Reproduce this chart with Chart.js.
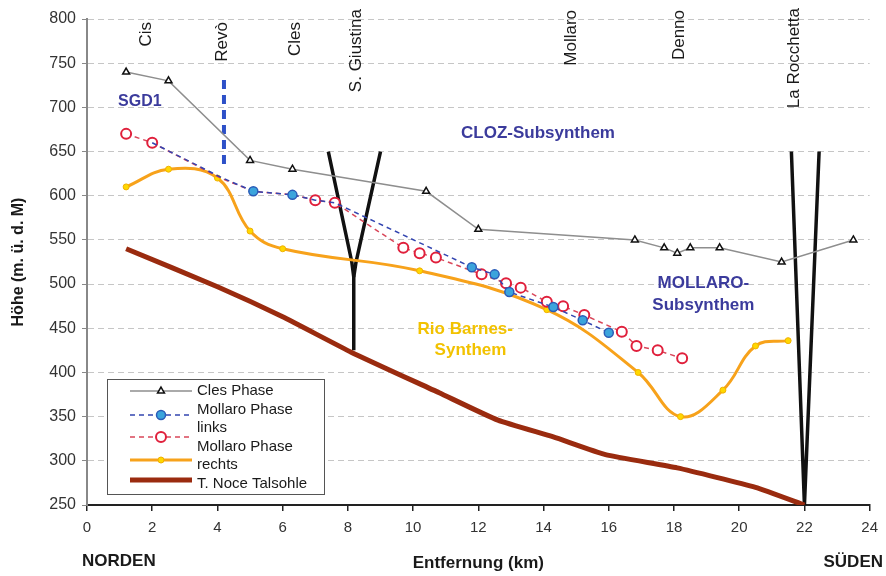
<!DOCTYPE html>
<html>
<head>
<meta charset="utf-8">
<script src="https://cdn.jsdelivr.net/npm/chart.js@4.4.1/dist/chart.umd.min.js"></script>
<style>
  body { margin: 0; background: #fff; }
  canvas { display: block; }
</style>
</head>
<body>
<canvas id="chart-js" width="886" height="576"></canvas>
<script>
// tick labels
const xTickValues = [0, 2, 4, 6, 8, 10, 12, 14, 16, 18, 20, 22, 24];
const yTickValues = [250, 300, 350, 400, 450, 500, 550, 600, 650, 700, 750, 800];

// Cles Phase
const clesKm = [1.2, 2.5, 5.0, 6.3, 10.4, 12.0, 16.8, 17.7, 18.1, 18.5, 19.4, 21.3, 23.5];
const clesH  = [740, 730, 640, 630, 605, 562, 550, 541, 535, 541, 541, 525, 550];

// Mollaro Phase links (blue)
const linksKm = [2.0, 4.1, 5.1, 6.3, 7.0, 7.6, 11.8, 12.5, 12.95, 14.3, 15.2, 16.0];
const linksH  = [660, 621, 605, 601, 595, 592, 519, 511, 491, 474, 459, 445];
const linksShown = [false, false, true, true, false, false, true, true, true, true, true, true];

// red open circles
const redKm = [1.2, 2.0, 4.1, 5.1, 6.3, 7.0, 7.6, 9.7, 10.2, 10.7, 12.1, 12.85, 13.3, 14.1, 14.6, 15.25, 16.4, 16.85, 17.5, 18.25];
const redH  = [670, 660, 620, 605, 601, 595, 592, 541, 535, 530, 511, 501, 496, 480, 475, 465, 446, 430, 425, 416];
const redShown = [true, true, false, false, false, true, true, true, true, true, true, true, true, true, true, true, true, true, true, true];

// Mollaro Phase rechts (orange)
const rechtsKm = [1.2, 2.5, 4.0, 5.0, 6.0, 10.2, 14.1, 16.9, 18.2, 19.5, 20.5, 21.5];
const rechtsH  = [610, 630, 620, 560, 540, 515, 471, 400, 350, 380, 430, 436];

// T. Noce Talsohle
const talKm = [1.2, 4.0, 6.0, 8.1, 10.8, 12.6, 14.3, 15.9, 18.1, 20.5, 22.0];
const talH  = [540, 497, 463, 423, 377, 346, 327, 307, 292, 270, 250];

// fault / gorge symbols
const giustinaLeftKm = [7.4, 8.12, 8.18, 8.18];
const giustinaLeftH  = [650, 525, 508, 425];
const giustinaRightKm = [9.0, 8.25, 8.18];
const giustinaRightH  = [650, 525, 508];
const rocchettaKm = [21.6, 22.0, 22.45];
const rocchettaH  = [650, 250, 650];
const revoKm = [4.2, 4.2];
const revoH  = [731, 632];

// place names along the top
const placeNames = ['Cis', 'Revò', 'Cles', 'S. Giustina', 'Mollaro', 'Denno', 'La Rocchetta'];
const placeKm = [1.83, 4.15, 6.38, 8.27, 14.84, 18.17, 21.7];

const FONT = '"Liberation Sans", Arial, sans-serif';

function pts(xs, ys) {
    return xs.map((v, i) => ({ x: v, y: ys[i] }));
}

const placeTop = [22, 22, 22, 9, 10, 10, 8];

const unitLabels = [
    { text: 'SGD1', km: 1.62, h: 706, color: '#3b3b9c', size: 16 },
    { text: 'CLOZ-Subsynthem', km: 13.83, h: 671, color: '#3b3b9c', size: 17 },
    { text: 'MOLLARO-', km: 18.9, h: 501, color: '#3b3b9c', size: 17 },
    { text: 'Subsynthem', km: 18.9, h: 476, color: '#3b3b9c', size: 17 },
    { text: 'Rio Barnes-', km: 11.6, h: 449, color: '#f2c200', size: 17 },
    { text: 'Synthem', km: 11.76, h: 425, color: '#f2c200', size: 17 }
];

const legendItems = [
    { ds: 0, lines: ['Cles Phase'] },
    { ds: 1, lines: ['Mollaro Phase', 'links'] },
    { ds: 2, lines: [] },
    { ds: 3, lines: ['Mollaro Phase', 'rechts'] },
    { ds: 4, lines: ['T. Noce Talsohle'] }
];

const extras = {
    id: 'extras',
    afterDatasetsDraw(chart) {
        const { ctx, scales: { x, y } } = chart;
        ctx.save();

        // place names, rotated
        ctx.font = '17px ' + FONT;
        ctx.fillStyle = '#1a1a1a';
        ctx.textAlign = 'right';
        ctx.textBaseline = 'middle';
        placeNames.forEach((name, i) => {
            ctx.save();
            ctx.translate(x.getPixelForValue(placeKm[i]), placeTop[i]);
            ctx.rotate(-Math.PI / 2);
            ctx.fillText(name, 0, 0);
            ctx.restore();
        });

        // unit names
        ctx.textAlign = 'center';
        unitLabels.forEach(l => {
            ctx.font = 'bold ' + l.size + 'px ' + FONT;
            ctx.fillStyle = l.color;
            ctx.fillText(l.text, x.getPixelForValue(l.km), y.getPixelForValue(l.h));
        });

        // NORDEN / SÜDEN
        ctx.font = 'bold 17px ' + FONT;
        ctx.fillStyle = '#1a1a1a';
        ctx.textAlign = 'left';
        ctx.fillText('NORDEN', 82, 561);
        ctx.textAlign = 'right';
        ctx.fillText('SÜDEN', 883, 562);

        // legend box
        ctx.fillStyle = '#fff';
        ctx.fillRect(107, 379, 217, 115);
        ctx.strokeStyle = '#555';
        ctx.lineWidth = 1;
        ctx.strokeRect(107.5, 379.5, 217, 115);

        const markY = [391, 415, 437, 460, 480];
        let textY = 391;
        ctx.font = '15px ' + FONT;
        ctx.textAlign = 'left';
        legendItems.forEach((item, i) => {
            const ds = chart.data.datasets[item.ds];
            const my = markY[i];
            ctx.save();
            ctx.strokeStyle = ds.borderColor;
            ctx.lineWidth = ds.borderWidth;
            ctx.setLineDash(ds.borderDash || []);
            ctx.beginPath();
            ctx.moveTo(130, my);
            ctx.lineTo(192, my);
            ctx.stroke();
            ctx.restore();
            if (ds.pointStyle !== false && ds.legendRadius) {
                ctx.save();
                ctx.fillStyle = ds.pointBackgroundColor;
                ctx.strokeStyle = ds.pointBorderColor;
                ctx.lineWidth = ds.pointBorderWidth;
                Chart.helpers.drawPoint(ctx, {
                    pointStyle: ds.pointStyle || 'circle',
                    radius: ds.legendRadius,
                    rotation: 0,
                    borderWidth: ds.pointBorderWidth
                }, 161, my);
                ctx.restore();
            }
            ctx.fillStyle = '#1a1a1a';
            item.lines.forEach(t => {
                ctx.fillText(t, 197, textY);
                textY += 18.5;
            });
        });

        ctx.restore();
    }
};

const ctx = document.getElementById('chart-js').getContext('2d');

const myChart = new Chart(ctx, {
    type: 'line',
    data: {
        datasets: [
            {
                label: 'Cles Phase',
                data: pts(clesKm, clesH),
                borderColor: '#8e8e8e',
                borderWidth: 1.5,
                pointStyle: 'triangle',
                pointRadius: 4,
                legendRadius: 4,
                pointBackgroundColor: '#fff',
                pointBorderColor: '#111',
                pointBorderWidth: 1.5,
                tension: 0,
                order: 1
            },
            {
                label: 'Mollaro Phase links',
                data: pts(linksKm, linksH),
                borderColor: '#3345b0',
                borderWidth: 1.5,
                borderDash: [5, 4],
                pointStyle: 'circle',
                pointRadius: linksShown.map(s => s ? 4.5 : 0),
                legendRadius: 4.5,
                pointBackgroundColor: '#3ba4dc',
                pointBorderColor: '#2a5cb8',
                pointBorderWidth: 1.5,
                tension: 0,
                order: 2
            },
            {
                label: '',
                data: pts(redKm, redH),
                borderColor: '#d9475a',
                borderWidth: 1.5,
                borderDash: [5, 4],
                pointStyle: 'circle',
                pointRadius: redShown.map(s => s ? 5 : 0),
                legendRadius: 5,
                pointBackgroundColor: '#fff',
                pointBorderColor: '#e0203c',
                pointBorderWidth: 2,
                tension: 0,
                order: 3
            },
            {
                label: 'Mollaro Phase rechts',
                data: pts(rechtsKm, rechtsH),
                borderColor: '#f7a21b',
                borderWidth: 3,
                pointStyle: 'circle',
                pointRadius: 3,
                legendRadius: 3,
                pointBackgroundColor: '#ffd800',
                pointBorderColor: '#f0b000',
                pointBorderWidth: 1,
                tension: 0.4,
                order: 4
            },
            {
                label: 'T. Noce Talsohle',
                data: pts(talKm, talH),
                borderColor: '#9a2b0f',
                borderWidth: 5,
                pointRadius: 0,
                pointStyle: false,
                tension: 0.15,
                order: 5
            },
            {
                label: 'S. Giustina',
                data: pts(giustinaLeftKm, giustinaLeftH),
                borderColor: '#111',
                borderWidth: 3.5,
                pointRadius: 0,
                tension: 0,
                order: 6
            },
            {
                label: 'S. Giustina 2',
                data: pts(giustinaRightKm, giustinaRightH),
                borderColor: '#111',
                borderWidth: 3.5,
                pointRadius: 0,
                tension: 0,
                order: 6
            },
            {
                label: 'La Rocchetta',
                data: pts(rocchettaKm, rocchettaH),
                borderColor: '#111',
                borderWidth: 3.5,
                pointRadius: 0,
                tension: 0,
                order: 6
            },
            {
                label: 'Revò',
                data: pts(revoKm, revoH),
                borderColor: '#2d50c8',
                borderWidth: 4,
                borderDash: [9, 6],
                pointRadius: 0,
                tension: 0,
                order: 6
            }
        ]
    },
    options: {
        responsive: false,
        devicePixelRatio: 1,
        animation: false,
        layout: { padding: { left: 0, right: 13, top: 19, bottom: 0 } },
        plugins: {
            legend: { display: false },
            tooltip: { enabled: false }
        },
        scales: {
            x: {
                type: 'linear',
                position: 'bottom',
                min: 0,
                max: 24,
                afterBuildTicks: s => { s.ticks = xTickValues.map(v => ({ value: v })); },
                afterFit: s => { s.height = 71; },
                ticks: {
                    color: '#333',
                    font: { family: FONT, size: 15 },
                    padding: 8
                },
                grid: {
                    drawOnChartArea: false,
                    drawTicks: true,
                    tickLength: 6,
                    color: '#222',
                    lineWidth: 1.5
                },
                border: { color: '#222', width: 2 },
                title: {
                    display: true,
                    text: 'Entfernung (km)',
                    color: '#1a1a1a',
                    font: { family: FONT, size: 17, weight: 'bold' },
                    padding: { top: 0, bottom: 2 }
                }
            },
            y: {
                min: 250,
                max: 800,
                afterBuildTicks: s => { s.ticks = yTickValues.map(v => ({ value: v })); },
                afterFit: s => { s.width = 87; },
                ticks: {
                    color: '#333',
                    font: { family: FONT, size: 16 },
                    padding: 6
                },
                grid: {
                    color: '#c6c6c6',
                    lineWidth: 1,
                    tickLength: 5,
                    tickColor: '#888'
                },
                border: { color: '#888', width: 2, dash: [6, 4] },
                title: {
                    display: true,
                    text: 'Höhe (m. ü. d. M)',
                    color: '#1a1a1a',
                    font: { family: FONT, size: 16, weight: 'bold' },
                    padding: { top: 9, bottom: 0 }
                }
            }
        }
    },
    plugins: [extras]
});
</script>
</body>
</html>
